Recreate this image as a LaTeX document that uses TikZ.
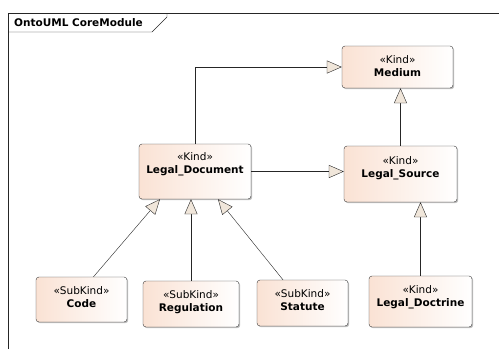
\documentclass[tikz,border=0pt]{standalone}
\usepackage{fontspec}
\setmainfont{DejaVu Sans}
\usetikzlibrary{arrows.meta,shadows}
\definecolor{boxfill}{RGB}{250,226,212}
\definecolor{boxline}{RGB}{55,55,55}
\definecolor{tipfill}{RGB}{240,230,218}
\tikzset{
	classbox/.style={draw=boxline, rounded corners=3pt, left color=boxfill, right color=white,
		drop shadow={shadow xshift=1.2pt, shadow yshift=-1.2pt, fill=black!50}},
	clstext/.style={anchor=north, align=center, inner sep=0pt, font=\fontsize{10.5}{13}\selectfont},
	gen/.style={draw=black!85, -{Triangle[length=15pt, width=13pt, fill=tipfill]}}
}
\newcommand{\umlcls}[2]{\guillemotleft#1\guillemotright\\\textbf{#2}}
\begin{document}
\begin{tikzpicture}[x=1pt, y=-1pt, line join=round, >=stealth]
		\useasboundingbox (0,0) rectangle (499,349);
		% package frame
		\draw[black!85] (8,349) -- (8,13) -- (499,13);
		\draw[black!85] (8,32) -- (152,32) -- (167,17) -- (167,13);
		\node[anchor=west, inner sep=0pt] (title) at (14,22.5) {\fontsize{10.5}{12}\selectfont\bfseries OntoUML CoreModule};
		% classes
		\node[classbox, minimum width=111pt, minimum height=42pt] (medium) at (397.5,67) {};
		\node[classbox, minimum width=112pt, minimum height=55pt] (legaldoc) at (195,171.5) {};
		\node[classbox, minimum width=113pt, minimum height=56pt] (legalsource) at (400.5,174) {};
		\node[classbox, minimum width=91pt, minimum height=45pt] (code) at (81.5,299.5) {};
		\node[classbox, minimum width=96pt, minimum height=46pt] (regulation) at (191,304) {};
		\node[classbox, minimum width=91pt, minimum height=46pt] (statute) at (302.5,303) {};
		\node[classbox, minimum width=103pt, minimum height=51pt] (doctrine) at (420.5,301.5) {};
		% class names
		\node[clstext] (medium-t) at ([yshift=-9.5pt]medium.north) {\umlcls{Kind}{Medium}};
		\node[clstext] (legaldoc-t) at ([yshift=-9pt]legaldoc.north) {\umlcls{Kind}{Legal\_Document}};
		\node[clstext] (legalsource-t) at ([yshift=-11pt]legalsource.north) {\umlcls{Kind}{Legal\_Source}};
		\node[clstext] (code-t) at ([yshift=-10pt]code.north) {\umlcls{SubKind}{Code}};
		\node[clstext] (regulation-t) at ([yshift=-10pt]regulation.north) {\umlcls{SubKind}{Regulation}};
		\node[clstext] (statute-t) at ([yshift=-10pt]statute.north) {\umlcls{SubKind}{Statute}};
		\node[clstext] (doctrine-t) at ([yshift=-10pt]doctrine.north) {\umlcls{Kind}{Legal\_Doctrine}};
		% generalizations
		\draw[gen] (legaldoc.north) |- (medium.west);
		\draw[gen] (legaldoc.east) -- (legaldoc.east -| legalsource.west);
		\draw[gen] (legalsource.north) -- (legalsource.north |- medium.south);
		\draw[gen] (doctrine.north) -- (doctrine.north |- legalsource.south);
		\draw[gen] ([xshift=12pt]code.north) -- ([xshift=-35pt]legaldoc.south);
		\draw[gen] (regulation.north) -- (regulation.north |- legaldoc.south);
		\draw[gen] ([xshift=-19.5pt]statute.north) -- ([xshift=23pt]legaldoc.south);
\end{tikzpicture}
\end{document}
